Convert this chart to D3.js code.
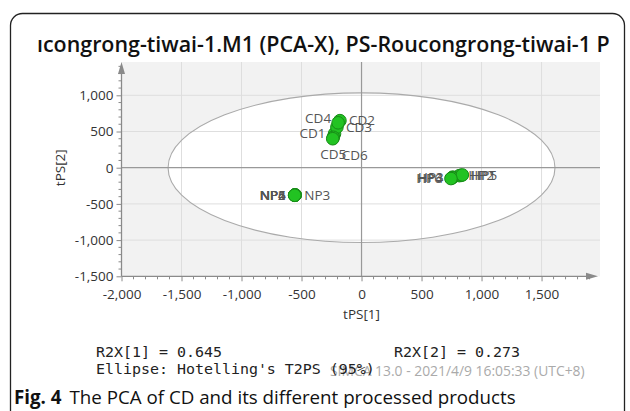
<!DOCTYPE html>
<html>
<head>
<meta charset="utf-8">
<script src="https://cdn.jsdelivr.net/npm/d3@7"></script>
<style>
  html, body { margin: 0; padding: 0; background: #fff; }
  svg { display: block; }
</style>
</head>
<body>
<svg id="chart" width="630" height="411"></svg>
<script>
// Score values (tPS[1], tPS[2]) for each sample
const sampleNames = ["CD1", "CD2", "CD3", "CD4", "CD5", "CD6",
                     "NP1", "NP2", "NP3", "NP4", "NP5", "NP6",
                     "HP1", "HP2", "HP3", "HP4", "HP5", "HP6"];
const tPS1 = [-225, -180, -205, -195, -235, -240,
              -555, -558, -552, -556, -554, -557,
              830, 815, 760, 755, 840, 745];
const tPS2 = [470, 650, 560, 620, 420, 400,
              -378, -380, -376, -379, -377, -381,
              -105, -110, -130, -140, -100, -150];

const xTicks = [-2000, -1500, -1000, -500, 0, 500, 1000, 1500];
const yTicks = [-1500, -1000, -500, 0, 500, 1000];

// Hotelling's T2 ellipse semi-axes (95%)
const ellipseAxes = [1612, 1033];

const statsLeft = "R2X[1] = 0.645";
const statsRight = "R2X[2] = 0.273";
const statsEllipse = "Ellipse: Hotelling's T2PS (95%)";
const stamp = "SIMCA 13.0 - 2021/4/9 16:05:33 (UTC+8)";
const titleText = "\u0131congrong-tiwai-1.M1 (PCA-X), PS-Roucongrong-tiwai-1 P";

// where each point's label sits relative to its marker
const labelSide = {
  CD1: "left", CD2: "right", CD3: "right", CD4: "upleft", CD5: "belowleft", CD6: "belowright",
  NP1: "left", NP2: "left", NP3: "right", NP4: "left", NP5: "left", NP6: "left",
  HP1: "right", HP2: "right", HP3: "left", HP4: "left", HP5: "right", HP6: "left"
};

const fmt = d3.formatLocale({decimal: ".", thousands: ",", grouping: [3], currency: ["", ""], minus: "-"}).format(",");

const svg = d3.select("#chart");
const sans = "'Open Sans', 'Noto Sans', sans-serif";

// fit a text element to a given width by adjusting its font size
function fitWidth(sel, size, target) {
  sel.attr("font-size", size);
  const w = sel.node().getComputedTextLength();
  sel.attr("font-size", size * target / w);
}

// outer frame
svg.append("rect")
  .attr("x", 10.5).attr("y", 13.5).attr("width", 614).attr("height", 420)
  .attr("rx", 12).attr("fill", "none").attr("stroke", "#222").attr("stroke-width", 1.3);

// title
const title = svg.append("text")
  .attr("x", 37).attr("y", 52)
  .attr("font-family", sans).attr("font-weight", 600)
  .attr("fill", "#111")
  .text(titleText);
fitWidth(title, 20, 573);

const plot = {left: 121.5, right: 600, top: 62, bottom: 276.3};

const x = d3.scaleLinear().domain([-2000, 1987]).range([plot.left, plot.right]);
const y = d3.scaleLinear().domain([-1500, 1460]).range([plot.bottom, plot.top]);

// plot background
svg.append("rect")
  .attr("x", plot.left).attr("y", plot.top)
  .attr("width", plot.right - plot.left).attr("height", plot.bottom - plot.top)
  .attr("fill", "#f2f2f2");

svg.append("ellipse")
  .attr("cx", x(0)).attr("cy", y(0))
  .attr("rx", x(ellipseAxes[0]) - x(0)).attr("ry", y(0) - y(ellipseAxes[1]))
  .attr("fill", "#fff");

// grid
const grid = svg.append("g").attr("stroke", "#dedede").attr("stroke-width", 1);
xTicks.filter(d => d !== 0 && d !== -2000).forEach(d => {
  grid.append("line").attr("x1", x(d)).attr("x2", x(d)).attr("y1", plot.top).attr("y2", plot.bottom);
});
yTicks.filter(d => d !== 0 && d !== -1500).forEach(d => {
  grid.append("line").attr("x1", plot.left).attr("x2", plot.right).attr("y1", y(d)).attr("y2", y(d));
});

// ellipse outline
svg.append("ellipse")
  .attr("cx", x(0)).attr("cy", y(0))
  .attr("rx", x(ellipseAxes[0]) - x(0)).attr("ry", y(0) - y(ellipseAxes[1]))
  .attr("fill", "none").attr("stroke", "#aaa").attr("stroke-width", 1.1);

// zero lines
svg.append("line").attr("x1", x(0)).attr("x2", x(0)).attr("y1", plot.top).attr("y2", plot.bottom)
  .attr("stroke", "#999").attr("stroke-width", 1.2);
svg.append("line").attr("x1", plot.left).attr("x2", plot.right).attr("y1", y(0)).attr("y2", y(0))
  .attr("stroke", "#999").attr("stroke-width", 1.2);

// axes
const axisColor = "#8a8a8a";
const xAxis = svg.append("g").attr("transform", `translate(0,${plot.bottom})`)
  .call(d3.axisBottom(x).tickValues(xTicks).tickFormat(fmt).tickSizeInner(5).tickSizeOuter(0).tickPadding(8));
const yAxis = svg.append("g").attr("transform", `translate(${plot.left},0)`)
  .call(d3.axisLeft(y).tickValues(yTicks).tickFormat(fmt).tickSizeInner(5).tickSizeOuter(0).tickPadding(3));
// minor ticks
xAxis.selectAll(".minor").data(d3.range(-2000, 1901, 100).filter(d => d % 500 !== 0)).enter()
  .append("line").attr("class", "minor").attr("x1", d => x(d)).attr("x2", d => x(d)).attr("y1", 0).attr("y2", 3);
yAxis.selectAll(".minor").data(d3.range(-1500, 1401, 100).filter(d => d % 500 !== 0)).enter()
  .append("line").attr("class", "minor").attr("y1", d => y(d)).attr("y2", d => y(d)).attr("x1", 0).attr("x2", -3);
[xAxis, yAxis].forEach(g => {
  g.selectAll("line").attr("stroke", axisColor);
  g.select(".domain").remove();
  g.selectAll("text").attr("font-family", sans).attr("font-size", 13.5).attr("fill", "#333");
});
// axis lines with arrowheads
svg.append("line").attr("x1", plot.left).attr("x2", plot.right - 8).attr("y1", plot.bottom).attr("y2", plot.bottom)
  .attr("stroke", axisColor).attr("stroke-width", 1.3);
svg.append("path")
  .attr("d", `M${plot.right - 2},${plot.bottom} l-12,-3.5 l0,7 z`).attr("fill", axisColor);
svg.append("line").attr("x1", plot.left).attr("x2", plot.left).attr("y1", plot.bottom).attr("y2", plot.top + 8)
  .attr("stroke", axisColor).attr("stroke-width", 1.3);
svg.append("path")
  .attr("d", `M${plot.left},${plot.top} l-3.5,12 l7,0 z`).attr("fill", axisColor);

// axis titles
svg.append("text").attr("x", x(0)).attr("y", 319).attr("text-anchor", "middle")
  .attr("font-family", sans).attr("font-size", 13.5).attr("fill", "#333").text("tPS[1]");
svg.append("text").attr("transform", `translate(65,${y(0)}) rotate(-90)`).attr("text-anchor", "middle")
  .attr("font-family", sans).attr("font-size", 13.5).attr("fill", "#333").text("tPS[2]");

// points
const samples = sampleNames.map((n, i) => ({name: n, t1: tPS1[i], t2: tPS2[i]}));
const labelOffsets = {
  left: [-9, 0, "end"], right: [9, 0, "start"], upleft: [-7, -5, "end"],
  belowleft: [0, 17, "middle"], belowright: [22, 17, "middle"]
};
const lbl = svg.append("g").attr("font-family", sans).attr("font-size", 13.5).attr("fill", "#555");
samples.forEach(s => {
  const o = labelOffsets[labelSide[s.name]];
  lbl.append("text").attr("x", x(s.t1) + o[0]).attr("y", y(s.t2) + o[1]).attr("dy", "0.35em")
    .attr("text-anchor", o[2]).text(s.name);
});
svg.append("g").selectAll("circle").data(samples).enter().append("circle")
  .attr("cx", d => x(d.t1)).attr("cy", d => y(d.t2)).attr("r", 6.3)
  .attr("fill", "#22c322").attr("stroke", "#178a17").attr("stroke-width", 1);

// model statistics
const mono = "'DejaVu Sans Mono', 'Liberation Mono', monospace";
const st1 = svg.append("text").attr("x", 96).attr("y", 357).attr("font-family", mono).attr("fill", "#222").text(statsLeft);
fitWidth(st1, 14, 126);
const st2 = svg.append("text").attr("x", 394).attr("y", 357).attr("font-family", mono).attr("fill", "#222").text(statsRight);
fitWidth(st2, 14, 126);
const stp = svg.append("text").attr("x", 330).attr("y", 376).attr("font-family", sans).attr("fill", "#aaa").text(stamp);
fitWidth(stp, 13, 255);
const st3 = svg.append("text").attr("x", 96).attr("y", 374).attr("font-family", mono).attr("fill", "#222").text(statsEllipse);
fitWidth(st3, 14, 279);

// caption
const cap = svg.append("text").attr("x", 14).attr("y", 404).attr("font-family", sans).attr("fill", "#111");
cap.append("tspan").attr("font-weight", 700).text("Fig. 4");
cap.append("tspan").attr("dx", 8).text("The PCA of CD and its different processed products");
fitWidth(cap, 17, 494);
</script>
</body>
</html>
